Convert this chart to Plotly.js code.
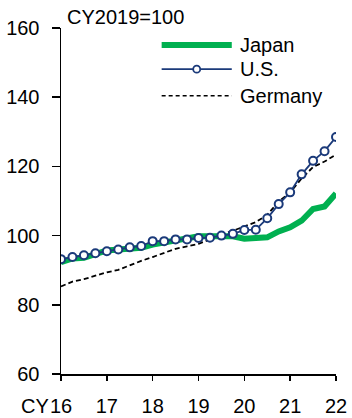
<!DOCTYPE html>
<html>
<head>
<meta charset="utf-8">
<script src="https://cdn.plot.ly/plotly-3.0.1.min.js"></script>
<style>html,body{margin:0;padding:0;background:#fff;}#chart{width:352px;height:418px;}</style>
</head>
<body>
<div id="chart"></div>
<script>
// Quarterly periods, CY2016 Q1 .. CY2022 Q1
const quarters = [16.0, 16.25, 16.5, 16.75, 17.0, 17.25, 17.5, 17.75, 18.0, 18.25, 18.5, 18.75,
                  19.0, 19.25, 19.5, 19.75, 20.0, 20.25, 20.5, 20.75, 21.0, 21.25, 21.5, 21.75, 22.0];
const japan = [92.3, 93.4, 93.6, 94.6, 95.7, 96.0, 96.3, 96.5, 97.4, 97.9, 98.4, 99.1,
               99.8, 99.8, 99.8, 99.8, 99.1, 99.1, 99.5, 101.2, 102.4, 104.3, 107.7, 108.4, 112.2];
const us = [93.2, 93.8, 94.3, 94.9, 95.5, 96.0, 96.6, 97.0, 98.4, 98.4, 98.9, 98.9,
            99.3, 99.4, 100.0, 100.5, 101.6, 101.7, 105.0, 109.1, 112.5, 117.7, 121.6, 124.4, 128.5];
const germany = [85.3, 86.7, 87.4, 88.4, 89.4, 90.1, 91.5, 92.7, 93.8, 95.0, 96.2, 96.9,
                 97.6, 98.9, 100.3, 101.4, 102.7, 103.9, 106.0, 109.8, 112.5, 116.5, 119.8, 121.4, 123.4];
const xTickVals = [16, 17, 18, 19, 20, 21, 22];
const xTickText = ["16", "17", "18", "19", "20", "21", "22"];
const seriesNames = ["Japan", "U.S.", "Germany"];
const unitLabel = "CY2019=100";

const GREEN = "#00B050", NAVY = "#1B3A7A", FONT = "Liberation Sans, Arial, sans-serif";

const traces = [
  {x: quarters, y: germany, name: seriesNames[2], mode: "lines",
   line: {color: "#000", width: 1.8, dash: "5px,3px"}},
  {x: quarters, y: japan, name: seriesNames[0], mode: "lines",
   line: {color: GREEN, width: 6}},
  {x: quarters, y: us, name: seriesNames[1], mode: "lines+markers",
   line: {color: NAVY, width: 1.8},
   marker: {symbol: "circle", size: 8, color: "#fff", line: {color: NAVY, width: 2}}}
];

// custom legend (paper coordinates)
const lx0 = 0.366, lx1 = 0.621, ltx = 0.644;
const ly = [0.951, 0.881, 0.804];
const shapes = [
  {type: "line", xref: "paper", yref: "paper", x0: lx0, x1: lx1, y0: ly[0], y1: ly[0],
   line: {color: GREEN, width: 6}},
  {type: "line", xref: "paper", yref: "paper", x0: lx0, x1: lx1, y0: ly[1], y1: ly[1],
   line: {color: NAVY, width: 1.6}},
  {type: "circle", xref: "paper", yref: "paper", xsizemode: "pixel", ysizemode: "pixel",
   xanchor: (lx0 + lx1) / 2, yanchor: ly[1], x0: -3.5, x1: 3.5, y0: -3.5, y1: 3.5,
   fillcolor: "#fff", line: {color: NAVY, width: 1.8}},
  {type: "line", xref: "paper", yref: "paper", x0: lx0, x1: lx1, y0: ly[2], y1: ly[2],
   line: {color: "#000", width: 1.5, dash: "4px,3px"}}
];
const annotations = seriesNames.map((n, i) => ({
  text: n, xref: "paper", yref: "paper", x: ltx, y: ly[i], xanchor: "left", yanchor: "middle",
  showarrow: false, font: {family: FONT, size: 20, color: "#000"}
}));
annotations.push({text: unitLabel, xref: "paper", yref: "paper", x: 0.013, y: 1.033,
  xanchor: "left", yanchor: "middle", showarrow: false, font: {family: FONT, size: 20, color: "#000"}});
annotations.push({text: "CY", xref: "x", yref: "paper", x: 16, y: 0, xshift: -10, yshift: -19,
  xanchor: "right", yanchor: "top", showarrow: false, font: {family: FONT, size: 20, color: "#000"}});

const layout = {
  width: 352, height: 418,
  margin: {l: 61, r: 16, t: 28, b: 43.5},
  paper_bgcolor: "#fff", plot_bgcolor: "#fff",
  showlegend: false,
  font: {family: FONT, size: 20, color: "#000"},
  xaxis: {range: [16, 22], tickvals: xTickVals, ticktext: xTickText, showgrid: false, zeroline: false,
          showline: true, linecolor: "#000", linewidth: 1.5, ticks: "outside", ticklen: 5, tickwidth: 1.5,
          tickcolor: "#000", ticklabelstandoff: 8, tickfont: {family: FONT, size: 20}},
  yaxis: {range: [60, 160], dtick: 20, showgrid: false, zeroline: false,
          showline: true, linecolor: "#000", linewidth: 1.5, ticks: "outside", ticklen: 8, tickwidth: 1.5,
          tickcolor: "#000", ticklabelstandoff: 8, tickfont: {family: FONT, size: 20}},
  shapes: shapes,
  annotations: annotations
};
Plotly.newPlot("chart", traces, layout, {displayModeBar: false, staticPlot: true});
</script>
</body>
</html>
